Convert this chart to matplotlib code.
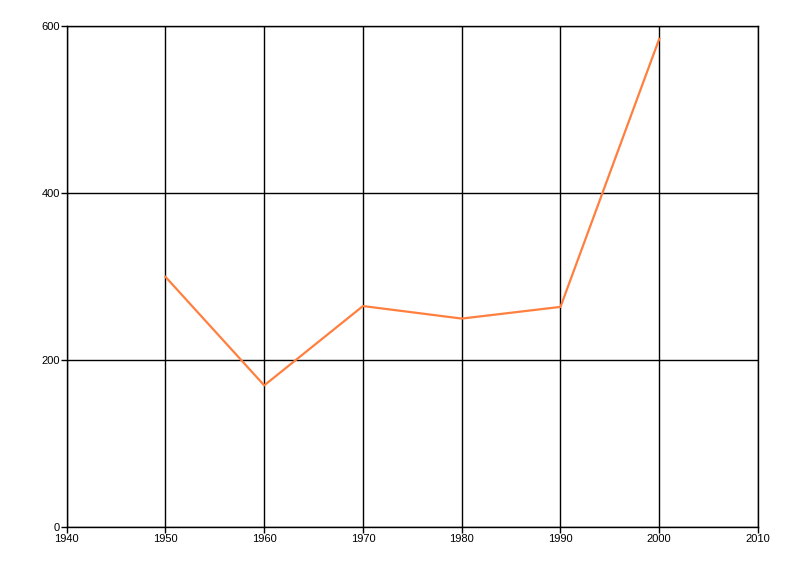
import matplotlib
matplotlib.use("Agg")
import matplotlib.pyplot as plt

years = [1950, 1960, 1970, 1980, 1990, 2000]
values = [300, 170, 265, 250, 264, 585]
x_ticks = [1940, 1950, 1960, 1970, 1980, 1990, 2000, 2010]
y_ticks = [0, 200, 400, 600]

fig = plt.figure(figsize=(8, 5.76), dpi=100)
ax = fig.add_axes([0.0834, 0.0845, 0.8641, 0.8698])
ax.plot(years, values, color='#FF7F3F', linewidth=1.6, zorder=3)
ax.set_xlim(1940, 2010)
ax.set_ylim(0, 600)
ax.set_xticks(x_ticks)
ax.set_yticks(y_ticks)
ax.grid(True, color='black', linewidth=1.0)
for s in ax.spines.values():
    s.set_color('black')
    s.set_linewidth(1.0)
ax.tick_params(axis='both', direction='out', length=4, width=1, colors='black',
               labelsize=8, pad=1)
for lbl in ax.get_xticklabels() + ax.get_yticklabels():
    lbl.set_fontfamily('Liberation Sans')
fig.savefig('out.png', dpi=100)
